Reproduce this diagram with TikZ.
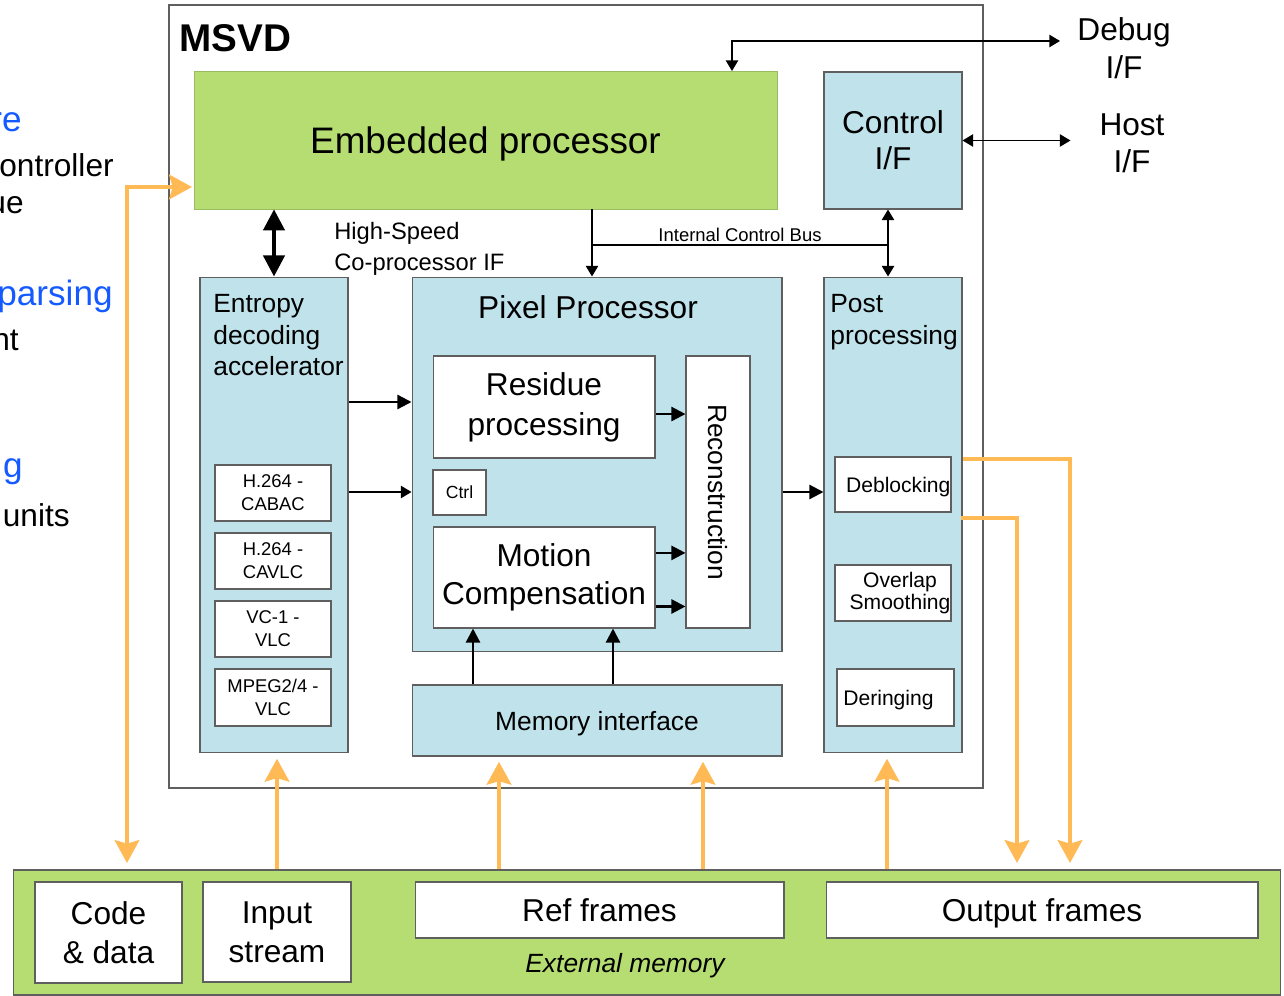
\documentclass[tikz,border=0pt]{standalone}
\usepackage{fontspec}
\setmainfont{Liberation Sans}
\usetikzlibrary{arrows.meta}
\definecolor{cpugreen}{RGB}{181,221,114}
\definecolor{hwblue}{RGB}{192,227,235}
\definecolor{memorange}{RGB}{255,185,85}
\definecolor{noteblue}{RGB}{20,90,255}
\definecolor{edgegray}{RGB}{95,95,95}

\begin{document}
\begin{tikzpicture}[x=0.02cm, y=-0.02cm,
    hw/.style={draw=edgegray, line width=0.6pt, fill=hwblue, inner sep=0pt},
    unit/.style={draw=edgegray, line width=0.6pt, fill=white, inner sep=0pt, align=center},
    big/.style={font=\fontsize{18}{22}\selectfont},
    mid/.style={font=\fontsize{15}{18}\selectfont},
    tiny/.style={font=\fontsize{10.5}{13}\selectfont},
    sig/.style={-{Triangle[length=6pt,width=7pt]}, line width=0.7pt},
    sigboth/.style={{Triangle[length=6pt,width=7pt]}-{Triangle[length=6pt,width=7pt]}, line width=0.7pt},
    sigbold/.style={-{Triangle[length=8pt,width=8pt]}, line width=1.3pt},
    mem/.style={-{Stealth[length=13pt,width=14pt,inset=2pt]}, line width=2.2pt, memorange},
    memboth/.style={{Stealth[length=13pt,width=14pt,inset=2pt]}-{Stealth[length=13pt,width=14pt,inset=2pt]}, line width=2.2pt, memorange},
  ]
  \useasboundingbox (0,0) rectangle (1284,996);
  % notes on the left, cut by the page edge
  \node[anchor=east, inner sep=0, text=noteblue, font=\fontsize{20}{24}\selectfont] (notea) at (22,122) {re};
  \node[anchor=east, inner sep=0, big] (noteb) at (114,165) {ontroller};
  \node[anchor=east, inner sep=0, big] (notec) at (24,205) {ue};
  \node[anchor=east, inner sep=0, text=noteblue, font=\fontsize{20}{24}\selectfont] (noted) at (113,296) {parsing};
  \node[anchor=east, inner sep=0, big] (notee) at (19,340) {nt};
  \node[anchor=east, inner sep=0, text=noteblue, font=\fontsize{20}{24}\selectfont] (notef) at (23,472) {g};
  \node[anchor=east, inner sep=0, big] (noteg) at (70,515) {units};

  % MSVD frame
  \node[draw=edgegray, line width=0.7pt, minimum width=16.28cm, minimum height=15.66cm] (msvd) at (576,396.5) {};
  \node[anchor=west, inner sep=0, font=\fontsize{22}{26}\selectfont\bfseries] (msvdlbl) at (179,38) {MSVD};

  % top row
  \node[draw=cpugreen!85!black, line width=0.4pt, fill=cpugreen, minimum width=11.66cm, minimum height=2.76cm, text depth=0pt, font=\fontsize{21}{25}\selectfont] (embedded) at (485.5,140) {Embedded processor};
  \node[hw, minimum width=2.76cm, minimum height=2.74cm, align=center, font=\fontsize{18}{20.5}\selectfont] (ctrlif) at (893,140.5) {Control\\I/F};
  \node[align=center, font=\fontsize{18}{21.5}\selectfont] (debug) at (1124,48) {Debug\\I/F};
  \node[align=center, font=\fontsize{18}{21}\selectfont] (host) at (1132,143) {Host\\I/F};

  % entropy decoding
  \node[hw, minimum width=2.96cm, minimum height=9.52cm] (entropy) at (274,515) {};
  \node[anchor=north west, inner sep=0, align=left, mid] (entropylbl) at (213,294) {Entropy\\decoding\\accelerator};
  \node[unit, tiny, minimum width=2.32cm, minimum height=1.12cm] (cabac) at (273,493) {H.264 -\\CABAC};
  \node[unit, tiny, minimum width=2.32cm, minimum height=1.12cm] (cavlc) at (273,561) {H.264 -\\CAVLC};
  \node[unit, tiny, minimum width=2.32cm, minimum height=1.12cm] (vcone) at (273,629) {VC-1 -\\VLC};
  \node[unit, tiny, minimum width=2.32cm, minimum height=1.14cm] (mpeg) at (273,697.5) {MPEG2/4 -\\VLC};

  % pixel processor
  \node[hw, minimum width=7.4cm, minimum height=7.5cm] (pixel) at (597,464.5) {};
  \node[font=\fontsize{18}{22}\selectfont] (pixellbl) at (588,307) {Pixel Processor};
  \node[unit, minimum width=4.44cm, minimum height=2.04cm, font=\fontsize{18}{22.7}\selectfont] (residue) at (544,407) {Residue\\processing};
  \node[unit, minimum width=4.44cm, minimum height=2.02cm, font=\fontsize{18}{21.5}\selectfont] (motion) at (544,577.5) {Motion\\Compensation};
  \node[unit, font=\fontsize{10}{12}\selectfont, minimum width=1.06cm, minimum height=0.9cm] (ctrl) at (459.5,492.5) {Ctrl};
  \node[unit, minimum width=1.28cm, minimum height=5.44cm] (recon) at (718,492) {};
  \node[rotate=-90, mid] (reconlbl) at (recon) {Reconstruction};
  \node[hw, minimum width=7.4cm, minimum height=1.42cm, text depth=0pt, mid] (memif) at (597,720.5) {Memory interface};

  % post processing
  \node[hw, minimum width=2.76cm, minimum height=9.52cm] (post) at (893,515) {};
  \node[anchor=north west, inner sep=0, align=left, mid] (postlbl) at (830,294) {Post\\processing};
  \node[unit, font=\fontsize{12}{13}\selectfont, text depth=0pt, minimum width=2.32cm, minimum height=1.1cm] (deblock) at (893,484.5) {\hspace{6pt}Deblocking};
  \node[unit, font=\fontsize{12}{13}\selectfont, minimum width=2.32cm, minimum height=1.12cm] (overlap) at (893,593) {\hspace{8pt}Overlap\\\hspace{8pt}Smoothing};
  \node[unit, font=\fontsize{12}{13}\selectfont, text depth=0pt, minimum width=2.34cm, minimum height=1.14cm] (dering) at (895.5,697.5) {Deringing\hspace{8pt}};

  % external memory
  \node[draw=edgegray, line width=0.6pt, fill=cpugreen, minimum width=25.36cm, minimum height=2.5cm] (extmem) at (647,932.5) {};
  \node[unit, big, minimum width=2.94cm, minimum height=2.02cm] (code) at (108.5,932.5) {Code\\\& data};
  \node[unit, big, minimum width=2.96cm, minimum height=2.0cm] (input) at (277,932) {Input\\stream};
  \node[unit, big, text depth=0pt, minimum width=7.38cm, minimum height=1.12cm] (ref) at (599.5,910) {Ref frames};
  \node[unit, big, text depth=0pt, minimum width=8.64cm, minimum height=1.12cm] (output) at (1042,910) {Output frames};
  \node[font=\fontsize{15}{18}\selectfont\itshape] (extlbl) at (625,966) {External memory};

  % control paths
  \coordinate (dbgin) at (732,71);
  \coordinate (dbgout) at (1060,41);
  \draw[sigboth] (dbgin) |- (dbgout);
  \draw[sigboth] (ctrlif.east) -- ([xshift=-13pt]host.west |- ctrlif.east);
  \draw[{Triangle[length=12pt,width=12pt]}-{Triangle[length=12pt,width=12pt]}, line width=2.3pt] (embedded.south -| entropy.north) -- (entropy.north);
  \node[anchor=north west, inner sep=0, align=left, font=\fontsize{13.5}{17.5}\selectfont] (hslbl) at (334,222) {High-Speed\\Co-processor IF};
  \coordinate (busl) at (592,245);
  \coordinate (busr) at (888,245);
  \draw[sig] (embedded.south -| busl) -- (pixel.north -| busl);
  \draw[line width=0.7pt] (busl) -- (busr);
  \draw[sig] (busr) -- (ctrlif.south -| busr);
  \draw[sig] (busr) -- (post.north -| busr);
  \node[anchor=south, inner sep=1.5pt, tiny] (buslbl) at (740,245) {Internal Control Bus};

  % data paths
  \coordinate (rowa) at (0,402);
  \coordinate (rowb) at (0,492);
  \coordinate (mcola) at (473,0);
  \coordinate (mcolb) at (613,0);
  \draw[sigbold] (entropy.east |- rowa) -- (pixel.west |- rowa);
  \draw[sig] (entropy.east |- rowb) -- (pixel.west |- rowb);
  \draw[sigbold] ([yshift=-4pt]residue.east) -- ([yshift=-4pt]residue.east -| recon.west);
  \draw[sigbold] ([yshift=14pt]motion.east) -- ([yshift=14pt]motion.east -| recon.west);
  \draw[sigbold] ([yshift=-16.5pt]motion.east) -- ([yshift=-16.5pt]motion.east -| recon.west);
  \draw[sigbold] (pixel.east |- rowb) -- (post.west |- rowb);
  \draw[sigbold] (memif.north -| mcola) -- (motion.south -| mcola);
  \draw[sigbold] (memif.north -| mcolb) -- (motion.south -| mcolb);

  % memory traffic
  \coordinate (codetip) at (127,863);
  \coordinate (cputip) at (192,187);
  \coordinate (refa) at (499,0);
  \coordinate (refb) at (703,0);
  \coordinate (postin) at (887,0);
  \coordinate (outa) at (1070,863);
  \coordinate (outb) at (1017,863);
  \draw[memboth] (codetip) |- (cputip);
  \draw[mem, shorten >=3pt] (extmem.north -| input.north) -- (entropy.south -| input.north);
  \draw[mem, shorten >=3pt] (extmem.north -| refa) -- (memif.south -| refa);
  \draw[mem, shorten >=3pt] (extmem.north -| refb) -- (memif.south -| refb);
  \draw[mem, shorten >=3pt] (extmem.north -| postin) -- (post.south -| postin);
  \draw[mem] (post.east |- 0,459) -| (outa);
  \draw[mem] ([xshift=-1pt]post.east |- 0,518) -| (outb);
\end{tikzpicture}
\end{document}
